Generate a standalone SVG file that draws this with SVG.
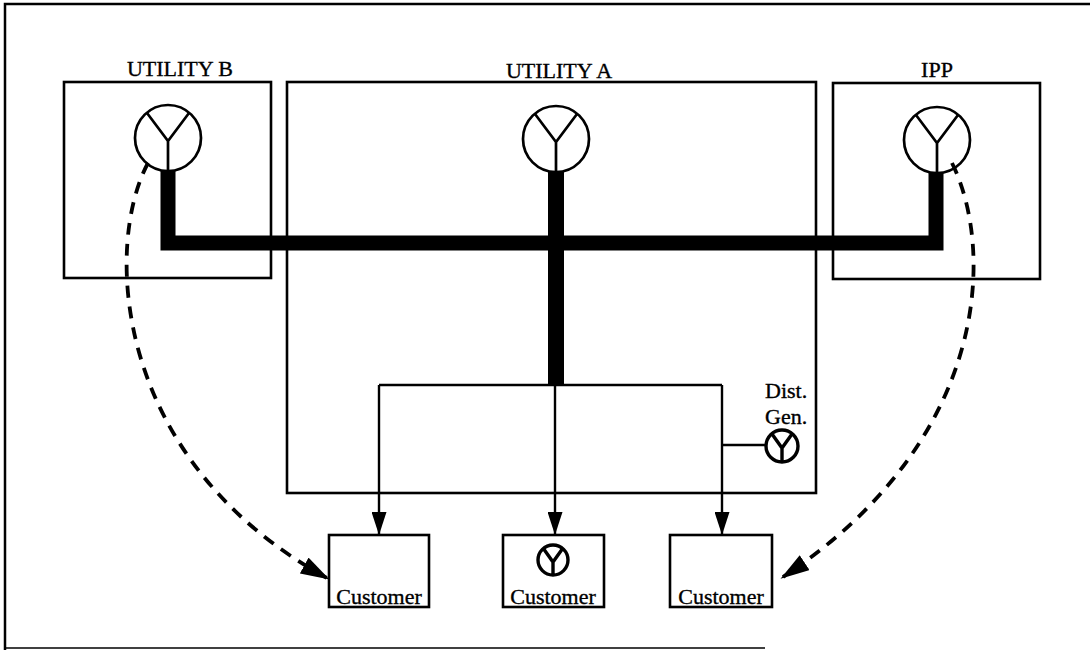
<svg xmlns="http://www.w3.org/2000/svg" width="1090" height="654" viewBox="0 0 1090 654">
<style>
.box{fill:none;stroke:#000;stroke-width:2.6}
.gen{fill:none;stroke:#000;stroke-width:2.7}
.gens{fill:none;stroke:#000;stroke-width:3.4}
.lbl{font-family:"Liberation Serif","Times New Roman",serif;font-size:22px;fill:#000;stroke:#000;stroke-width:0.35}
.thick{fill:none;stroke:#000;stroke-width:15;stroke-linejoin:miter}
.thin{fill:none;stroke:#000;stroke-width:2.4}
.dash{fill:none;stroke:#000;stroke-width:3.8;stroke-dasharray:12 9}
</style>
<defs>
<marker id="arr" markerUnits="userSpaceOnUse" markerWidth="24" markerHeight="15" refX="23" refY="7.5" orient="auto">
<path d="M0,0 L23,7.5 L0,15 z" fill="#000"/>
</marker>
<marker id="arrD" markerUnits="userSpaceOnUse" markerWidth="30" markerHeight="18" refX="26" refY="9" orient="auto">
<path d="M0,0 L29,9 L0,18 z" fill="#000"/>
</marker>
</defs>
<rect width="1090" height="654" fill="#fff"/>
<g id="frame">
<path d="M5,650 V4 H1090" fill="none" stroke="#000" stroke-width="2.5"/>
<path d="M5,648 H765" fill="none" stroke="#000" stroke-width="1.5"/>
</g>
<g id="utility-b">
<rect class="box" x="64" y="82" width="207" height="196"/>
<text class="lbl" x="180" y="76" text-anchor="middle">UTILITY B</text>
<circle class="gen" cx="168" cy="138" r="33"/>
<path class="gen" d="M147,113 L168,141 L189,113 M168,141 V171"/>
</g>
<g id="utility-a">
<rect class="box" x="287" y="82" width="529" height="411"/>
<text class="lbl" x="559" y="78" text-anchor="middle">UTILITY A</text>
<circle class="gen" cx="556" cy="139" r="33"/>
<path class="gen" d="M535,114 L556,142 L577,114 M556,142 V172"/>
</g>
<g id="ipp">
<rect class="box" x="833" y="83" width="207" height="196"/>
<text class="lbl" x="937" y="77" text-anchor="middle">IPP</text>
<circle class="gen" cx="937" cy="140" r="33"/>
<path class="gen" d="M916,115 L937,143 L958,115 M937,143 V173"/>
</g>
<g id="dist-gen">
<text class="lbl" x="765" y="398">Dist.</text>
<text class="lbl" x="765" y="424">Gen.</text>
<circle class="gens" cx="782" cy="446" r="16"/>
<path class="gens" d="M772,434 L782,448 L792,434 M782,448 V462"/>
</g>
<g id="customer-1">
<rect class="box" x="329" y="535" width="100" height="72"/>
<text class="lbl" x="379" y="604" text-anchor="middle">Customer</text>
</g>
<g id="customer-2">
<rect class="box" x="503" y="535" width="101" height="72"/>
<circle class="gens" cx="553" cy="560" r="15"/>
<path class="gens" d="M543,548 L553,562 L563,548 M553,562 V575"/>
<text class="lbl" x="553" y="604" text-anchor="middle">Customer</text>
</g>
<g id="customer-3">
<rect class="box" x="670" y="535" width="102" height="72"/>
<text class="lbl" x="721" y="604" text-anchor="middle">Customer</text>
</g>
<g id="connectors">
<path class="thick" d="M168,171 V243 H936 V173"/>
<path d="M556,172 V386" fill="none" stroke="#000" stroke-width="16"/>
<path class="thin" d="M379,385 H722"/>
<path class="thin" d="M379,385 V535" marker-end="url(#arr)"/>
<path class="thin" d="M555,385 V535" marker-end="url(#arr)"/>
<path class="thin" d="M722,385 V535" marker-end="url(#arr)"/>
<path class="thin" d="M722,445 H766"/>
<path class="dash" d="M148,163 C104,245 112,460 327,578" marker-end="url(#arrD)"/>
<path class="dash" d="M952,163 C995,250 990,440 783,577" marker-end="url(#arrD)"/>
</g>
</svg>
